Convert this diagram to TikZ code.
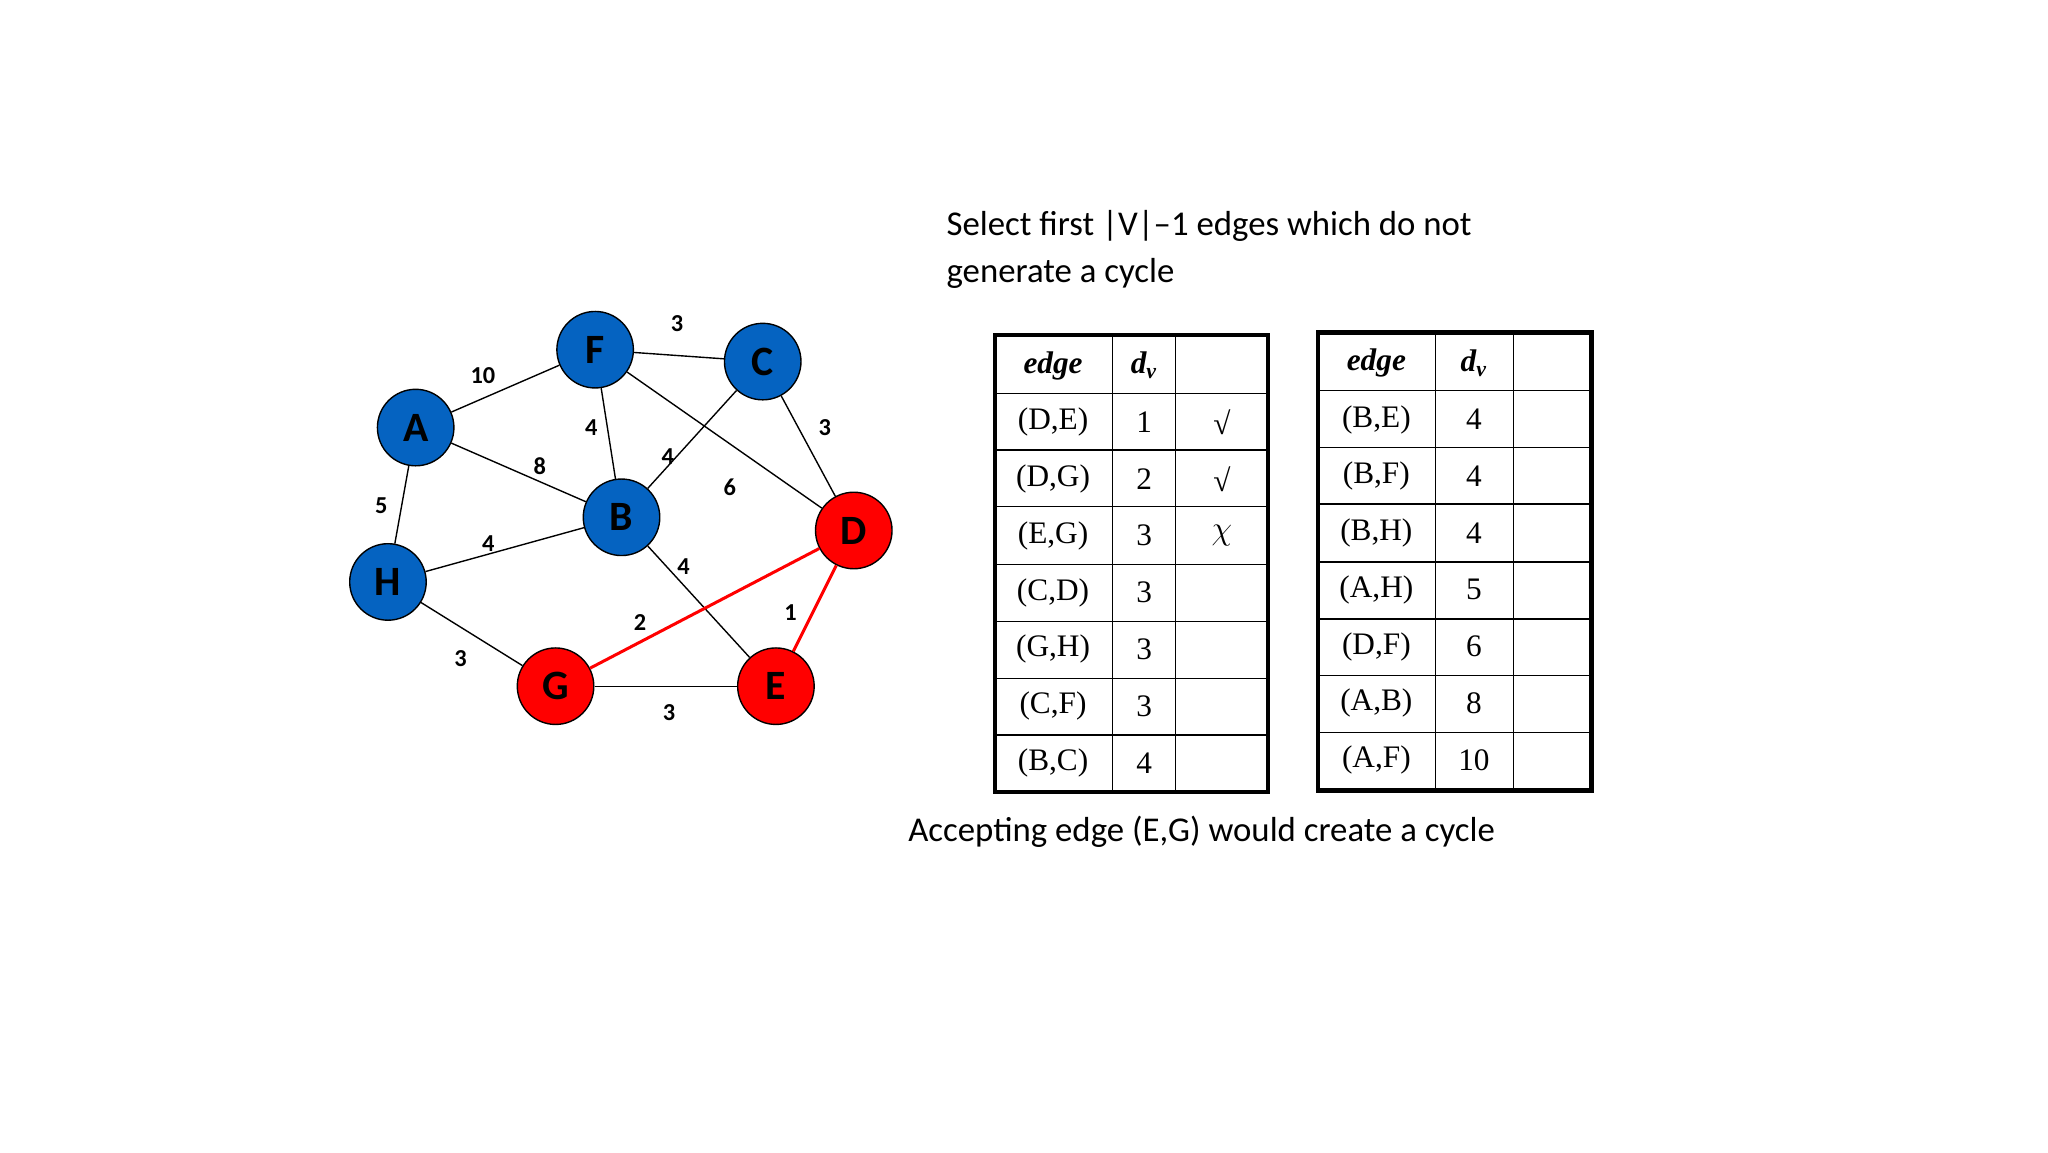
\documentclass[tikz,border=0pt]{standalone}
\usepackage{fontspec}
\setmainfont{Carlito}
\newfontfamily\tms{Liberation Serif}
\begin{document}
\begin{tikzpicture}[x=0.02cm,y=-0.02cm,
 v/.style={circle,draw=black,line width=0.6pt,minimum size=1.16cm,inner sep=0pt,font=\fontsize{18}{18}\selectfont\bfseries},
 bl/.style={v,fill={rgb,255:red,5;green,99;blue,193}},
 rd/.style={v,fill=red},
 e/.style={line width=0.6pt},
 re/.style={draw=red,line width=1.3pt},
 w/.style={font=\fontsize{10.5}{10.5}\selectfont\bfseries,inner sep=1pt},
 t/.style={font=\tms\fontsize{13.5}{13.5}\selectfont,inner sep=0pt},
 th/.style={t,font=\tms\fontsize{13.5}{13.5}\selectfont\bfseries\itshape}]
\useasboundingbox[fill=white] (0,0) rectangle (1552,873);
\node[bl] (F) at (451,265) {F};
\node[bl] (C) at (578,274) {C};
\node[bl] (A) at (315,324) {A};
\node[bl] (B) at (471,392) {B};
\node[rd] (D) at (647,402) {D};
\node[bl] (H) at (294,441) {H};
\node[rd] (G) at (421,520) {G};
\node[rd] (E) at (588,520) {E};
\draw[e] (F)--(C); \draw[e] (A)--(F); \draw[e] (F)--(B); \draw[e] (C)--(B);
\draw[e] (F)--(D); \draw[e] (C)--(D); \draw[e] (A)--(B); \draw[e] (A)--(H);
\draw[e] (H)--(B); \draw[e] (B)--(E); \draw[e] (H)--(G); \draw[e] (G)--(E);
\draw[re] (G)--(D); \draw[re] (D)--(E);
\node[w] at (513,245) {3}; \node[w] at (366,285) {10}; \node[w] at (448,324) {4};
\node[w] at (506,346) {4}; \node[w] at (553,369) {6}; \node[w] at (625,324) {3};
\node[w] at (409,353) {8}; \node[w] at (289,383) {5}; \node[w] at (370,412) {4};
\node[w] at (518,429) {4}; \node[w] at (599,464) {1}; \node[w] at (485,472) {2};
\node[w] at (349,499) {3}; \node[w] at (507,540) {3};
\node[anchor=west,align=left,font=\fontsize{15}{20.5}\selectfont,inner sep=0pt] (title) at (717,189) {Select first |V|--1 edges which do not\\generate a cycle};
\node[anchor=west,font=\fontsize{15}{15}\selectfont,inner sep=0pt] (foot) at (688,630) {Accepting edge (E,G) would create a cycle};
% left table
\foreach \y in {298,341,384,428,471,514,557} \draw[line width=0.6pt] (754,\y)--(961,\y);
\draw[line width=0.6pt] (843,254)--(843,600); \draw[line width=0.6pt] (891,254)--(891,600);
\draw[line width=1.8pt] (754,254) rectangle (961,600);
\node[th] at (798,277) {edge}; \node[th] at (867,277) {d\textsubscript{v}};
\foreach \r/\a/\b/\c in {0/{(D,E)}/1/{\textit{√}},1/{(D,G)}/2/{\textit{√}},2/{(E,G)}/3/{$\chi$},3/{(C,D)}/3/{},4/{(G,H)}/3/{},5/{(C,F)}/3/{},6/{(B,C)}/4/{}}{
 \node[t] at (798,320+43*\r) {\a}; \node[t] at (867,320+43*\r) {\b}; \node[t] at (926,320+43*\r) {\c};}
% right table
\foreach \y in {296,339,382,426,469,512,555} \draw[line width=0.6pt] (999,\y)--(1206,\y);
\draw[line width=0.6pt] (1088,252)--(1088,599); \draw[line width=0.6pt] (1147,252)--(1147,599);
\draw[line width=1.8pt] (999,252) rectangle (1206,599);
\node[th] at (1043,275) {edge}; \node[th] at (1117,275) {d\textsubscript{v}};
\foreach \r/\a/\b in {0/{(B,E)}/4,1/{(B,F)}/4,2/{(B,H)}/4,3/{(A,H)}/5,4/{(D,F)}/6,5/{(A,B)}/8,6/{(A,F)}/10}{
 \node[t] at (1043,318+43*\r) {\a}; \node[t] at (1117,318+43*\r) {\b};}
\end{tikzpicture}
\end{document}
